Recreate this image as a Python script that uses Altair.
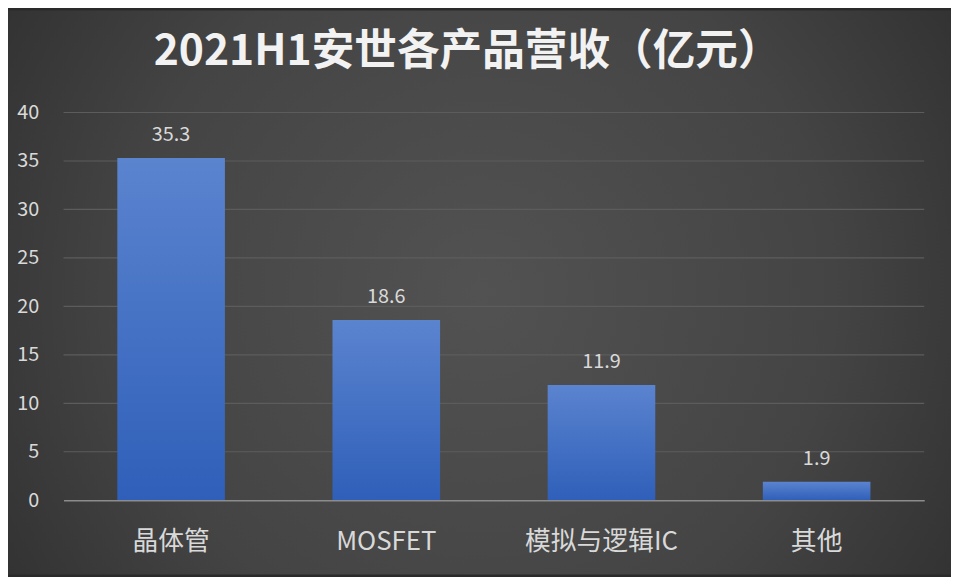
import altair as alt
import pandas as pd

title_text = ["2021H1安世各产品营收（亿元）"]
categories = ["晶体管", "MOSFET", "模拟与逻辑IC", "其他"]
values = [35.3, 18.6, 11.9, 1.9]
labels = ["35.3", "18.6", "11.9", "1.9"]
y_ticks = [0, 5, 10, 15, 20, 25, 30, 35, 40]

df = pd.DataFrame({"cat": categories, "val": values, "lab": labels})
grid_df = pd.DataFrame({"g": y_ticks})
bg_df = pd.DataFrame({"k": [0]})
title_df = pd.DataFrame({"t": title_text})

W, H = 868, 391
PAD = {"left": 56, "top": 103, "right": 27, "bottom": 75}
FONT = "Noto Sans CJK SC"

bg = alt.Chart(bg_df).mark_rect(
    color=alt.Gradient(
        gradient="radial",
        stops=[alt.GradientStop(color="#525252", offset=0),
               alt.GradientStop(color="#444444", offset=0.5),
               alt.GradientStop(color="#252525", offset=1)],
        x1=0.5, y1=0.5, r1=0, x2=0.5, y2=0.5, r2=0.75,
    )
).encode(
    x=alt.value(-PAD["left"]), x2=alt.value(W + PAD["right"]),
    y=alt.value(-PAD["top"]), y2=alt.value(H + PAD["bottom"]),
)

y_scale = alt.Scale(domain=[0, 40], nice=False)
y_axis = alt.Axis(title=None, values=y_ticks, labelFontSize=20,
                  labelColor="#d9d9d9", labelFont=FONT,
                  labelPadding=25, ticks=False, domain=False,
                  grid=False, zindex=1)

grid = alt.Chart(grid_df).transform_filter("datum.g > 0").mark_rule(
    color="#5c5c5c", strokeWidth=1.2
).encode(
    y=alt.Y("g:Q", scale=y_scale, axis=y_axis),
    x=alt.value(0), x2=alt.value(W),
)

x_enc = alt.X("cat:N", sort=categories,
              scale=alt.Scale(paddingInner=0.5, paddingOuter=0.25),
              axis=alt.Axis(title=None, labelAngle=0, labelFontSize=26,
                            labelColor="#d9d9d9", labelFont=FONT,
                            labelPadding=29, ticks=False, zindex=1,
                            domainColor="#8c8c8c", domainWidth=1.5))
y_enc = alt.Y("val:Q", scale=y_scale, axis=y_axis)

bars = alt.Chart(df).mark_bar(
    color=alt.Gradient(
        gradient="linear",
        stops=[alt.GradientStop(color="#5b84cf", offset=0),
               alt.GradientStop(color="#2f5fb9", offset=1)],
        x1=0, y1=0, x2=0, y2=1,
    )
).encode(x=x_enc, y=y_enc)

text = alt.Chart(df).mark_text(
    dy=-17, fontSize=20, color="#d9d9d9", font=FONT, baseline="alphabetic"
).encode(x=alt.X("cat:N", sort=categories), y="val:Q", text="lab:N")

title = alt.Chart(title_df).mark_text(
    fontSize=43, fontWeight="bold", font=FONT, color="#f2f2f2",
    align="center", baseline="alphabetic",
).encode(x=alt.value(407), y=alt.value(-48), text="t:N")

chart = alt.layer(bg, grid, bars, text, title).properties(
    width=W, height=H,
    padding=PAD,
    autosize=alt.AutoSizeParams(type="none"),
).configure(background="#2a2a2a").configure_view(stroke=None)

chart.save("out.html", embed_options={"renderer": "svg", "actions": False})
